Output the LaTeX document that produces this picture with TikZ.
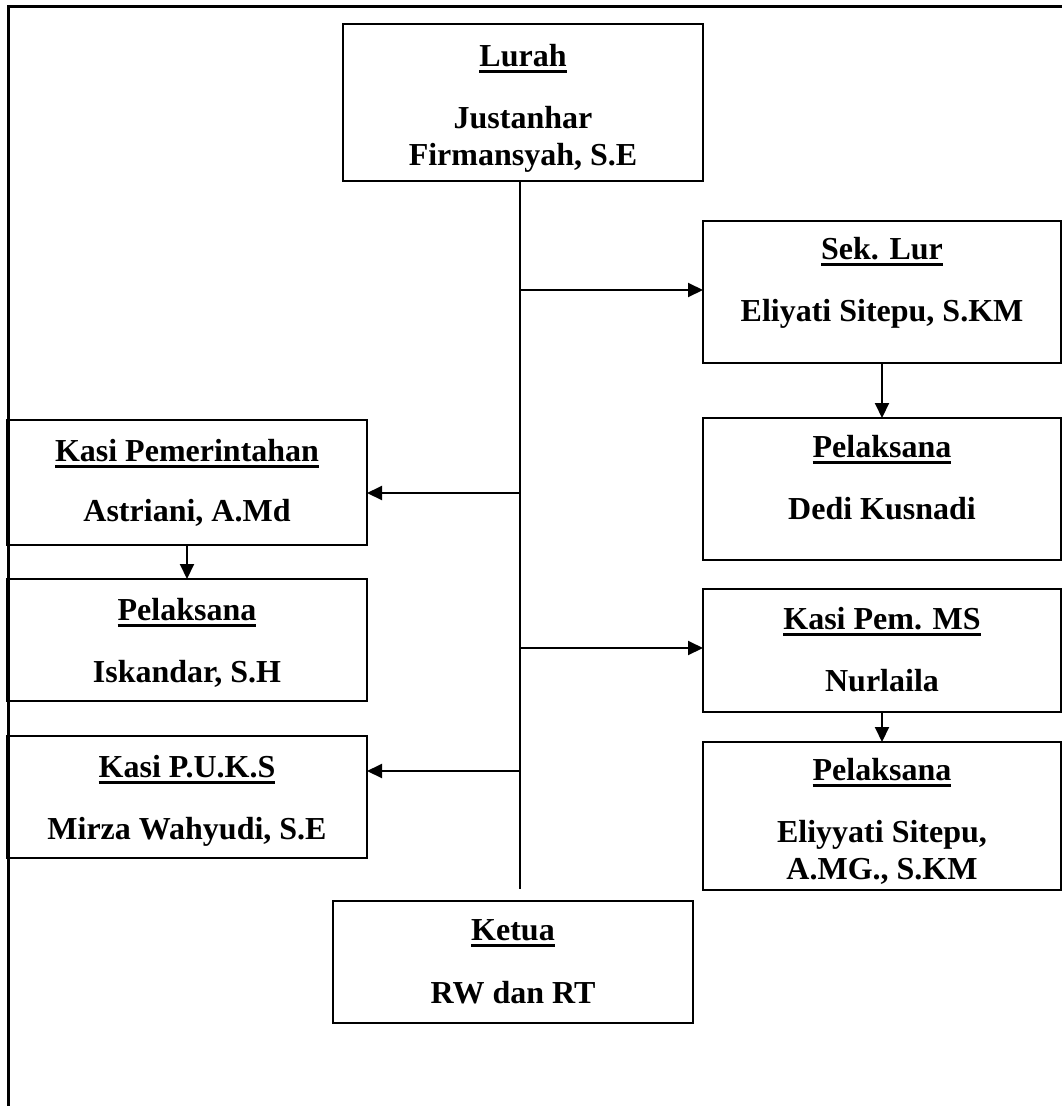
\documentclass[tikz,border=0pt]{standalone}
\usepackage{fontspec}
\setmainfont{Liberation Serif}
\usetikzlibrary{arrows.meta}
\newcommand\ulbox[1]{\setbox0=\hbox{#1}\rlap{\copy0}\rule[-6.5pt]{\wd0}{2.5pt}}
\tikzset{
 box/.style={draw, line width=1.8pt, inner sep=0pt, outer sep=0pt},
 lbl/.style={anchor=base, inner sep=0pt, font=\fontsize{32}{37}\selectfont\bfseries},
 conn/.style={line width=2pt},
 arr/.style={conn, -{Triangle[length=15pt,width=14pt]}},
 frame/.style={line width=3pt},
}
\begin{document}
\begin{tikzpicture}[x=1pt,y=-1pt]
\useasboundingbox (0,0) rectangle (1062,1106);
% outer frame
\coordinate (fA) at (8.7,1106);
\coordinate (fB) at (8.7,6);
\coordinate (fC) at (1062,6);
\draw[frame] (fA) -- (fB) -- (fC);

% boxes
\node[box, minimum width=360pt, minimum height=157pt] (lurah) at (523,102.5) {};
\node[box, minimum width=358pt, minimum height=142pt] (sek) at (882,292) {};
\node[box, minimum width=358pt, minimum height=142pt] (dedi) at (882,489) {};
\node[box, minimum width=360pt, minimum height=125pt] (kpem) at (187,482.5) {};
\node[box, minimum width=360pt, minimum height=122pt] (isk) at (187,640) {};
\node[box, minimum width=358pt, minimum height=123pt] (kms) at (882,650.5) {};
\node[box, minimum width=358pt, minimum height=148pt] (eli) at (882,816) {};
\node[box, minimum width=360pt, minimum height=122pt] (puks) at (187,797) {};
\node[box, minimum width=360pt, minimum height=122pt] (ketua) at (513,962) {};

% texts
\node[lbl] (lurahA) at (523,66) {\ulbox{Lurah}};
\node[lbl] (lurahB) at (523,128) {Justanhar};
\node[lbl] (lurahC) at (523,165) {Firmansyah, S.E};
\node[lbl] (sekA) at (882,259) {\ulbox{Sek. Lur}};
\node[lbl] (sekB) at (882,321) {Eliyati Sitepu, S.KM};
\node[lbl] (dediA) at (882,457) {\ulbox{Pelaksana}};
\node[lbl] (dediB) at (882,519) {Dedi Kusnadi};
\node[lbl] (kpemA) at (187,461) {\ulbox{Kasi Pemerintahan}};
\node[lbl] (kpemB) at (187,521) {Astriani, A.Md};
\node[lbl] (iskA) at (187,620) {\ulbox{Pelaksana}};
\node[lbl] (iskB) at (187,682) {Iskandar, S.H};
\node[lbl] (kmsA) at (882,629) {\ulbox{Kasi Pem. MS}};
\node[lbl] (kmsB) at (882,691) {Nurlaila};
\node[lbl] (eliA) at (882,780) {\ulbox{Pelaksana}};
\node[lbl] (eliB) at (882,842) {Eliyyati Sitepu,};
\node[lbl] (eliC) at (882,879) {A.MG., S.KM};
\node[lbl] (puksA) at (187,777) {\ulbox{Kasi P.U.K.S}};
\node[lbl] (puksB) at (187,839) {Mirza Wahyudi, S.E};
\node[lbl] (ketuaA) at (513,940) {\ulbox{Ketua}};
\node[lbl] (ketuaB) at (513,1003) {RW dan RT};

% trunk
\coordinate (tTop) at (520,181);
\coordinate (tEnd) at (520,889);
\coordinate (t1) at (520,290);
\coordinate (t2) at (520,493);
\coordinate (t3) at (520,648);
\coordinate (t4) at (520,771);
\draw[conn] (tTop) -- (tEnd);
\draw[arr] (t1) -- (t1 -| sek.west);
\draw[arr] (t2) -- (t2 -| kpem.east);
\draw[arr] (t3) -- (t3 -| kms.west);
\draw[arr] (t4) -- (t4 -| puks.east);

% vertical arrows
\draw[arr] (sek.south) -- (dedi.north);
\draw[arr] (kms.south) -- (eli.north);
\draw[arr] (kpem.south) -- (isk.north);
\end{tikzpicture}
\end{document}
